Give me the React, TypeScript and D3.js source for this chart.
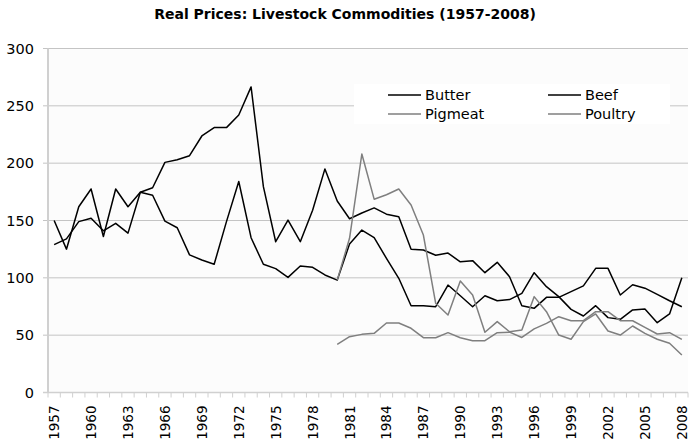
import React from "react";
import * as d3 from "d3";

const years: string[] = [
  "1957","1958","1959","1960","1961","1962","1963","1964","1965","1966",
  "1967","1968","1969","1970","1971","1972","1973","1974","1975","1976",
  "1977","1978","1979","1980","1981","1982","1983","1984","1985","1986",
  "1987","1988","1989","1990","1991","1992","1993","1994","1995","1996",
  "1997","1998","1999","2000","2001","2002","2003","2004","2005","2006",
  "2007","2008",
];

const butter: (number | null)[] = [
  129, 134, 149, 152, 141, 147.5, 139, 174.6, 172, 149.5,
  143.7, 120, 115.5, 111.8, 149, 184, 135, 111.8, 108, 100.4,
  110.3, 109.2, 102.5, 98, 129.5, 141.7, 135, 117, 99.6, 75.7,
  75.7, 74.8, 93.7, 84.4, 74.8, 84.4, 80, 81, 86.5, 104.5,
  92.3, 83.6, 72.5, 66.7, 75.7, 65.3, 63.8, 72, 72.8, 60.9,
  68.5, 100,
];

const beef: (number | null)[] = [
  150, 125, 162, 177.5, 136, 177.5, 162, 174.6, 178.6, 200.7,
  203, 206.5, 223.7, 231, 231, 242, 266.5, 179.5, 131.5, 150.4,
  131.5, 159, 195, 167, 151.5, 156.5, 161, 155.5, 153.3, 125,
  124.3, 119.7, 121.6, 114, 115, 104.5, 113.5, 101, 75.7, 73.4,
  83, 83, 88, 93, 108.3, 108.3, 85, 94, 91, 85.6,
  80, 74.8,
];

const pigmeat: (number | null)[] = [
  null, null, null, null, null, null, null, null, null, null,
  null, null, null, null, null, null, null, null, null, null,
  null, null, null, 98, 134.5, 208, 168.6, 172.5, 177.5, 163.5,
  137.3, 77.8, 67.6, 97.2, 85, 52.5, 61.8, 53, 54.5, 83.6,
  70.5, 50.1, 46.4, 61.8, 68.5, 53.6, 50.1, 58, 51.6, 46.4,
  42.9, 32.7,
];

const poultry: (number | null)[] = [
  null, null, null, null, null, null, null, null, null, null,
  null, null, null, null, null, null, null, null, null, null,
  null, null, null, 42, 48.7, 50.7, 51.6, 60.6, 60.6, 56,
  47.8, 47.8, 52.2, 47.8, 45.2, 45.2, 52.2, 52.6, 48, 55.5,
  60.3, 66.1, 62.6, 62.6, 70.5, 70.5, 62.6, 62.6, 56.8, 51,
  52.2, 46.4,
];

const yTicks: number[] = [0, 50, 100, 150, 200, 250, 300];
const xLabelYears: string[] = years.filter((_, i) => i % 3 === 0 || i === years.length - 1);

const seriesList = [
  { name: "Butter", values: butter, color: "#000000" },
  { name: "Beef", values: beef, color: "#000000" },
  { name: "Pigmeat", values: pigmeat, color: "#7f7f7f" },
  { name: "Poultry", values: poultry, color: "#7f7f7f" },
];

const W = 691;
const H = 445;
const left = 48;
const right = 688;
const top = 48.5;
const bottom = 392.5;
const FONT = "'DejaVu Sans', Verdana, sans-serif";

export default function App() {
  const x = d3.scaleBand<string>().domain(years).range([left, right]).padding(0);
  const y = d3.scaleLinear().domain([0, 300]).range([bottom, top]);
  const cx = (yr: string) => (x(yr) as number) + x.bandwidth() / 2;

  const line = d3
    .line<number | null>()
    .defined((d) => d != null)
    .x((_, i) => cx(years[i]))
    .y((d) => y(d as number));

  const legendItems = [
    { s: seriesList[0], lx: 388, ly: 95 },
    { s: seriesList[1], lx: 548, ly: 95 },
    { s: seriesList[2], lx: 388, ly: 114 },
    { s: seriesList[3], lx: 548, ly: 114 },
  ];

  return (
    <svg
      width={W}
      height={H}
      style={{ position: "absolute", left: 0, top: 0, background: "#fff" }}
      fontFamily={FONT}
    >
      <rect x={0} y={0} width={W} height={H} fill="#ffffff" />
      <rect x={left} y={top} width={right - left} height={bottom - top} fill="#fcfcfc" />
      <text x={345} y={19} textAnchor="middle" fontSize={14} fontWeight="bold" fill="#000">
        Real Prices: Livestock Commodities (1957-2008)
      </text>
      {yTicks.map((t) => (
        <g key={t}>
          {t > 0 && (
            <line x1={left} x2={right} y1={y(t)} y2={y(t)} stroke="#c4c4c4" strokeWidth={1} />
          )}
          <line x1={left - 5} x2={left} y1={y(t)} y2={y(t)} stroke="#c4c4c4" strokeWidth={1} />
          <text x={34} y={y(t)} dy="0.36em" textAnchor="end" fontSize={14.5} fill="#000">
            {t}
          </text>
        </g>
      ))}
      {/* legend box */}
      <rect x={354} y={84} width={316} height={40} fill="#ffffff" />
      {/* axes */}
      <line x1={left} x2={left} y1={top} y2={bottom} stroke="#d0d0d0" strokeWidth={2} />
      <line x1={left - 5} x2={right} y1={bottom} y2={bottom} stroke="#d0d0d0" strokeWidth={1.5} />
      {years.map((yr) => (
        <line
          key={"t" + yr}
          x1={x(yr) as number}
          x2={x(yr) as number}
          y1={bottom}
          y2={bottom + 5}
          stroke="#d0d0d0"
          strokeWidth={1}
        />
      ))}
      <line x1={right} x2={right} y1={bottom} y2={bottom + 5} stroke="#d0d0d0" strokeWidth={1} />
      {xLabelYears.map((yr) => (
        <text
          key={"l" + yr}
          transform={`translate(${cx(yr) + 5},${bottom + 13}) rotate(-90)`}
          textAnchor="end"
          fontSize={13.5}
          fill="#000"
        >
          {yr}
        </text>
      ))}
      {seriesList.map((s) => (
        <path
          key={s.name}
          d={line(s.values) || ""}
          fill="none"
          stroke={s.color}
          strokeWidth={1.5}
          strokeLinejoin="round"
        />
      ))}
      {legendItems.map(({ s, lx, ly }) => (
        <g key={"lg" + s.name}>
          <line x1={lx} x2={lx + 33} y1={ly} y2={ly} stroke={s.color} strokeWidth={1.5} />
          <text x={lx + 37} y={ly} dy="0.36em" fontSize={14.5} fill="#000">
            {s.name}
          </text>
        </g>
      ))}
    </svg>
  );
}
